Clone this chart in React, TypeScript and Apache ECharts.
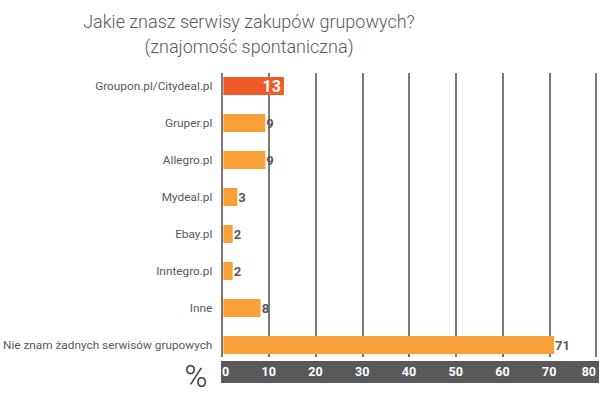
import React, { useEffect, useRef } from "react";
import * as echarts from "echarts";

const categories = [
  "Groupon.pl/Citydeal.pl",
  "Gruper.pl",
  "Allegro.pl",
  "Mydeal.pl",
  "Ebay.pl",
  "Inntegro.pl",
  "Inne",
  "Nie znam żadnych serwisów grupowych",
];
const values = [13, 9, 9, 3, 2, 2, 8, 71];
const highlightIndex = 0;
const titleLines = ["Jakie znasz serwisy zakupów grupowych?", "(znajomość spontaniczna)"];
const axisMin = 0;
const axisMax = 80;
const axisStep = 10;

const NUMFONT = "Roboto, sans-serif";

export default function App() {
  const ref = useRef<HTMLDivElement>(null);
  useEffect(() => {
    if (!ref.current) return;
    const chart = echarts.init(ref.current, null, { renderer: "svg" });
    chart.setOption({
      animation: false,
      backgroundColor: "#ffffff",
      graphic: [
        {
          type: "text",
          x: 249,
          y: 9,
          z: 5,
          style: {
            text: titleLines.join("\n"),
            fill: "#58595b",
            font: "300 18px Roboto, sans-serif",
            align: "center",
            lineHeight: 25,
          },
        },
        {
          type: "rect",
          z: -10,
          silent: true,
          shape: { x: 221, y: 361, width: 378, height: 22 },
          style: { fill: "#58595b" },
        },
        {
          type: "text",
          x: 196,
          y: 376,
          style: {
            text: "%",
            fill: "#333333",
            font: "300 31px Roboto, sans-serif",
            align: "center",
            verticalAlign: "middle",
          },
        },
      ],
      grid: [
        { left: 222, right: 11, top: 73, bottom: 39 },
        { left: 222, right: 11, top: 67.5, bottom: 32.5 },
      ],
      xAxis: [
        {
          gridIndex: 0,
          type: "value",
          min: axisMin,
          max: axisMax,
          interval: axisStep,
          z: 1,
          axisLine: { show: false },
          axisTick: { show: false },
          splitLine: { show: true, lineStyle: { color: "#4d4d4d", width: 1.5 } },
          axisLabel: {
            show: true,
            margin: 8,
            color: "#ffffff",
            fontWeight: "bold",
            fontSize: 12.5,
            fontFamily: NUMFONT,
            alignMinLabel: "left",
            alignMaxLabel: "right",
          },
        },
        {
          gridIndex: 1,
          type: "value",
          min: axisMin,
          max: axisMax,
          interval: axisStep,
          show: false,
        },
      ],
      yAxis: [
        {
          gridIndex: 0,
          type: "category",
          data: categories,
          show: false,
        },
        {
          gridIndex: 1,
          type: "category",
          data: categories,
          inverse: true,
          axisLine: { show: false },
          axisTick: { show: false },
          axisLabel: {
            margin: 11,
            color: "#58595b",
            fontSize: 11.8,
            fontFamily: "Roboto, sans-serif",
          },
        },
      ],
      series: [
        {
          type: "bar",
          xAxisIndex: 1,
          yAxisIndex: 1,
          barWidth: 18,
          z: 5,
          data: values.map((v, i) =>
            i === highlightIndex
              ? {
                  value: v,
                  itemStyle: { color: "#f05a28" },
                  label: {
                    show: true,
                    position: "insideRight",
                    distance: 3,
                    color: "#ffffff",
                    fontSize: 16,
                    fontWeight: "bold",
                    fontFamily: NUMFONT,
                  },
                }
              : { value: v }
          ),
          itemStyle: { color: "#f89f38" },
          label: {
            show: true,
            position: "right",
            distance: 1,
            color: "#58595b",
            fontSize: 13,
            fontWeight: "bold",
            fontFamily: NUMFONT,
          },
        },
      ],
    });
    return () => chart.dispose();
  }, []);
  return (
    <div
      ref={ref}
      style={{ position: "fixed", left: 0, top: 0, width: 607, height: 396 }}
    />
  );
}
